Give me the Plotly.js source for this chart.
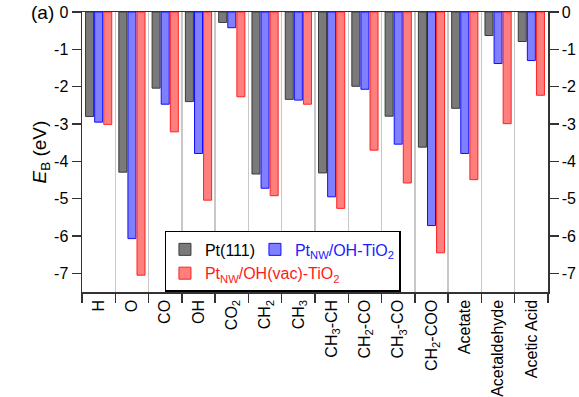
<!DOCTYPE html>
<html><head><meta charset="utf-8">
<script src="https://cdn.plot.ly/plotly-3.0.1.min.js"></script>
<style>html,body{margin:0;padding:0;background:#fff}#chart{width:579px;height:397px}</style>
</head><body><div id="chart"></div>
<script>
const categories = ['H','O','CO','OH','CO<sub>2</sub>','CH<sub>2</sub>','CH<sub>3</sub>','CH<sub>3</sub>-CH','CH<sub>2</sub>-CO','CH<sub>3</sub>-CO','CH<sub>2</sub>-COO','Acetate','Acetaldehyde','Acetic Acid'];
const pt111 = [-2.80,-4.29,-2.04,-2.40,-0.28,-4.34,-2.34,-4.31,-1.99,-2.79,-3.62,-2.58,-0.63,-0.79];
const ptNwOH = [-2.95,-6.07,-2.47,-3.79,-0.42,-4.72,-2.36,-4.95,-2.07,-3.54,-5.72,-3.79,-1.38,-1.30];
const ptNwVac = [-3.01,-7.05,-3.21,-5.04,-2.27,-4.92,-2.47,-5.26,-3.70,-4.58,-6.45,-4.49,-2.99,-2.23];
const seriesNames = ['Pt(111)', 'Pt<sub>NW</sub>/OH-TiO<sub>2</sub>', 'Pt<sub>NW</sub>/OH(vac)-TiO<sub>2</sub>'];
const yTickVals = [0,-1,-2,-3,-4,-5,-6,-7];
const yTickText = ['0','-1','-2','-3','-4','-5','-6','-7'];

const FONT = 'Liberation Sans, Arial, sans-serif';

const traces = [
  {type:'bar', x:categories, y:pt111, name:seriesNames[0], legendgroup:'a', legendwidth:45,
   marker:{color:'#7a7a7a', line:{color:'#3a3a3a', width:1}}, hoverinfo:'skip'},
  {type:'bar', x:categories, y:ptNwOH, name:'<span style="color:#2020ff">'+seriesNames[1]+'</span>', legendgroup:'b',
   marker:{color:'#7f7fff', line:{color:'#1010ff', width:1}}, hoverinfo:'skip'},
  {type:'bar', x:categories, y:ptNwVac, name:'<span style="color:#ff1a1a">'+seriesNames[2]+'</span>', legendgroup:'a', legendwidth:45,
   marker:{color:'#ff7f7f', line:{color:'#ff2020', width:1}}, hoverinfo:'skip'},
  {type:'scatter', x:[], y:[], yaxis:'y2', showlegend:false, hoverinfo:'skip'}
];

const layout = {
  width:579, height:397,
  margin:{l:82, r:31, t:12, b:105},
  paper_bgcolor:'#fff', plot_bgcolor:'#fff',
  font:{family:FONT, size:16, color:'#000'},
  barmode:'group', bargap:0.18, bargroupgap:0.12,
  showlegend:true,
  legend:{orientation:'h', traceorder:'grouped', x:0.178, y:0.218, xanchor:'left', yanchor:'top',
          bgcolor:'#fff', bordercolor:'#000', borderwidth:1.5, font:{family:FONT, size:16, color:'#000'},
          itemclick:false},
  xaxis:{type:'category', tickson:'boundaries', showgrid:true, gridcolor:'#c8c8c8', gridwidth:1.5,
         showline:true, linecolor:'#333', linewidth:1.5, mirror:true,
         ticks:'outside', ticklen:9, tickwidth:1.5, tickcolor:'#333', tickangle:-90,
         tickfont:{family:FONT, size:16, color:'#000'}, fixedrange:true},
  yaxis:{range:[-7.5,0], tickvals:yTickVals, ticktext:yTickText, showgrid:false, zeroline:false,
         showline:true, linecolor:'#333', linewidth:1.5, ticks:'outside', ticklen:9, tickwidth:1.5, tickcolor:'#333',
         tickfont:{family:FONT, size:16, color:'#000'},
         title:{text:'<i>E</i><sub>B</sub> (eV)', font:{family:FONT, size:19, color:'#000'}, standoff:2}},
  yaxis2:{range:[-7.5,0], overlaying:'y', side:'right', tickvals:yTickVals, ticktext:yTickText, showgrid:false, zeroline:false,
         showline:true, linecolor:'#333', linewidth:1.5, ticks:'outside', ticklen:9, tickwidth:1.5, tickcolor:'#333',
         tickfont:{family:FONT, size:16, color:'#000'}},
  annotations:[{text:'(a)', xref:'paper', yref:'paper', x:-0.056, y:1.0, xanchor:'right', yanchor:'middle',
                showarrow:false, font:{family:FONT, size:19, color:'#000'}}]
};

Plotly.newPlot('chart', traces, layout, {displayModeBar:false, staticPlot:true});
</script></body></html>
